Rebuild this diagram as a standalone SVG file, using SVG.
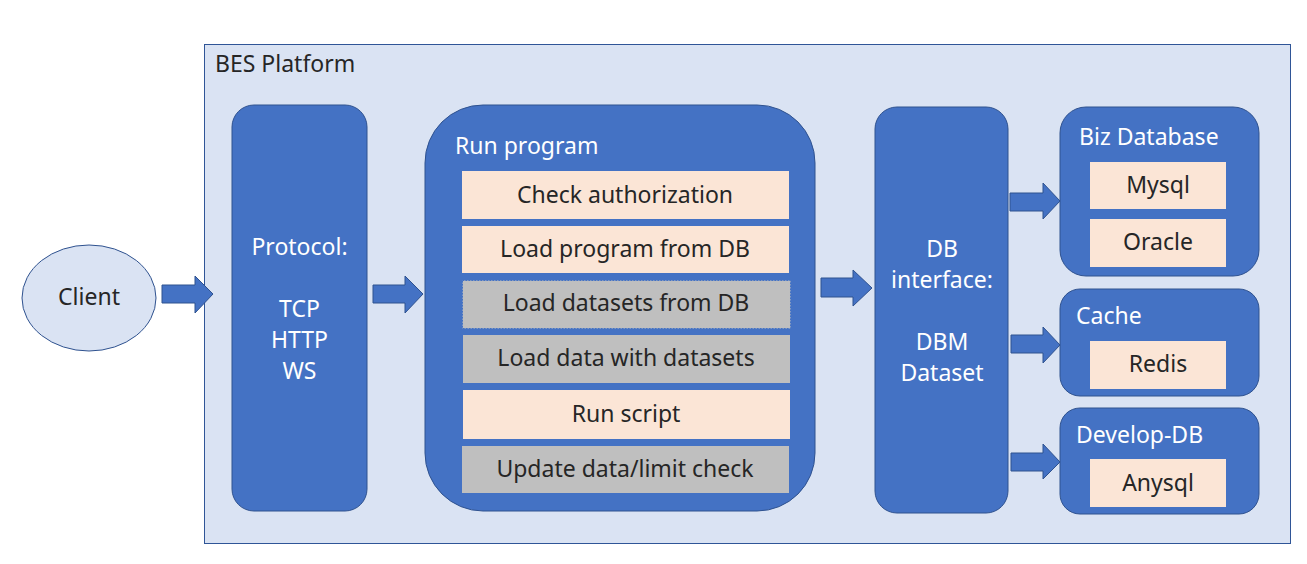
<svg xmlns="http://www.w3.org/2000/svg" width="1307" height="564" viewBox="0 0 1307 564">
<defs>
<style>
.blue{fill:#4472c4;stroke:#2f528f;stroke-width:1}
.peach{fill:#fbe5d6;stroke:#4472c4;stroke-width:1}
.gray{fill:#bfbfbf;stroke:#4472c4;stroke-width:1}
.t{font-family:"Noto Sans","Liberation Sans",sans-serif;font-size:23px}
.w{fill:#ffffff}
.d{fill:#262626}
.arr{fill:#4472c4;stroke:#2f528f;stroke-width:1}
</style>
</defs>
<rect width="1307" height="564" fill="#ffffff"/>
<g id="platform">
<rect x="204.5" y="44.5" width="1086" height="499" fill="#dae3f3" stroke="#2f5597" stroke-width="1"/>
<text class="t d" x="215" y="72">BES Platform</text>
</g>
<g id="client">
<ellipse cx="89" cy="298" rx="67" ry="53" fill="#dae3f3" stroke="#2f528f" stroke-width="1"/>
<text class="t d" x="89" y="305" text-anchor="middle">Client</text>
</g>
<g id="protocol">
<rect class="blue" x="232" y="105" width="135" height="406" rx="22"/>
<text class="t w" text-anchor="middle" x="299.5" y="255">Protocol:</text>
<text class="t w" text-anchor="middle" x="299.5" y="317">TCP</text>
<text class="t w" text-anchor="middle" x="299.5" y="348">HTTP</text>
<text class="t w" text-anchor="middle" x="299.5" y="379">WS</text>
</g>
<g id="run-program">
<rect class="blue" x="425" y="105" width="390" height="406" rx="58"/>
<text class="t w" x="455" y="154">Run program</text>
<rect class="peach" x="461.5" y="170.5" width="328" height="49"/>
<text class="t d" x="625" y="203" text-anchor="middle">Check authorization</text>
<rect class="peach" x="461.5" y="225.5" width="328" height="48"/>
<text class="t d" x="625" y="257" text-anchor="middle">Load program from DB</text>
<rect class="gray" x="462.5" y="280.5" width="328" height="48" stroke-dasharray="1.5 1.5"/>
<text class="t d" x="626" y="311" text-anchor="middle">Load datasets from DB</text>
<rect class="gray" x="462.5" y="334.5" width="328" height="49"/>
<text class="t d" x="626" y="366" text-anchor="middle">Load data with datasets</text>
<rect class="peach" x="462.5" y="389.5" width="328" height="50"/>
<text class="t d" x="626" y="422" text-anchor="middle">Run script</text>
<rect class="gray" x="461.5" y="445.5" width="328" height="48"/>
<text class="t d" x="625" y="477" text-anchor="middle">Update data/limit check</text>
</g>
<g id="db-interface">
<rect class="blue" x="875" y="107" width="133" height="406" rx="22"/>
<text class="t w" text-anchor="middle" x="942" y="257">DB</text>
<text class="t w" text-anchor="middle" x="942" y="288">interface:</text>
<text class="t w" text-anchor="middle" x="942" y="350">DBM</text>
<text class="t w" text-anchor="middle" x="942" y="381">Dataset</text>
</g>
<g id="biz-database">
<rect class="blue" x="1060" y="107" width="199" height="169" rx="26"/>
<text class="t w" x="1079" y="145">Biz Database</text>
<rect class="peach" x="1089.5" y="161.5" width="137" height="48"/>
<text class="t d" x="1158" y="193" text-anchor="middle">Mysql</text>
<rect class="peach" x="1089.5" y="218.5" width="137" height="49"/>
<text class="t d" x="1158" y="250" text-anchor="middle">Oracle</text>
</g>
<g id="cache">
<rect class="blue" x="1060" y="289" width="199" height="107" rx="20"/>
<text class="t w" x="1076" y="324">Cache</text>
<rect class="peach" x="1089.5" y="340.5" width="137" height="49"/>
<text class="t d" x="1158" y="372" text-anchor="middle">Redis</text>
</g>
<g id="develop-db">
<rect class="blue" x="1060" y="408" width="199" height="106" rx="20"/>
<text class="t w" x="1076" y="443">Develop-DB</text>
<rect class="peach" x="1089.5" y="458.5" width="137" height="49"/>
<text class="t d" x="1158" y="491" text-anchor="middle">Anysql</text>
</g>
<g id="connectors">
<polygon class="arr" points="162,285 195,285 195,276 213,294 195,313 195,303 162,303"/>
<polygon class="arr" points="373,285 405,285 405,276 423,294 405,313 405,303 373,303"/>
<polygon class="arr" points="821,278 853,278 853,270 872,288 853,306 853,297 821,297"/>
<polygon class="arr" points="1010,193 1043,193 1043,183 1060,201 1043,219 1043,211 1010,211"/>
<polygon class="arr" points="1011,335 1043,335 1043,327 1060,345 1043,363 1043,353 1011,353"/>
<polygon class="arr" points="1011,453 1043,453 1043,444 1060,462 1043,479 1043,471 1011,471"/>
</g>
</svg>
